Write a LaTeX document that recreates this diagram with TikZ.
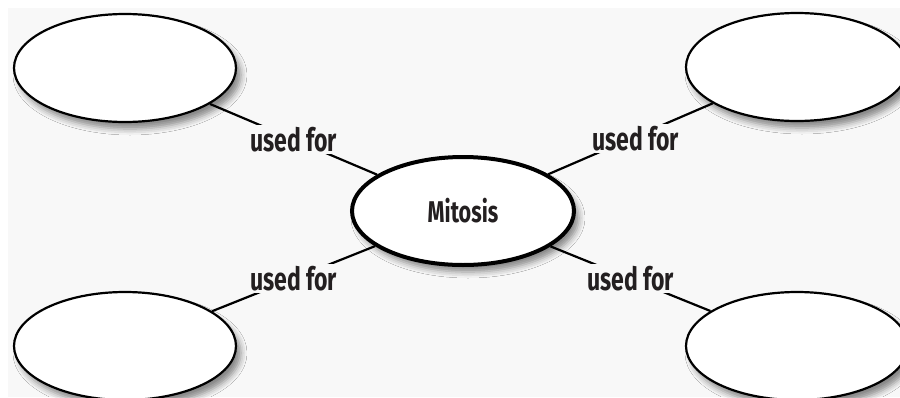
\documentclass[tikz,border=0pt]{standalone}
\usepackage{fontspec}
\setmainfont{Fira Sans}[FakeStretch=0.72]
\usetikzlibrary{shapes.geometric, shadows.blur}
\definecolor{paper}{HTML}{F8F8F8}
\definecolor{ink}{HTML}{231F20}
\tikzset{
      blank oval/.style={
		ellipse,
		draw=black,
		line width=2.2pt,
		fill=white,
		minimum width=222pt,
		minimum height=108pt,
		inner sep=0pt,
		blur shadow={shadow xshift=5pt, shadow yshift=-7pt, shadow blur radius=6pt, shadow opacity=45},
	  },
      main oval/.style={
		blank oval,
		line width=4pt,
		text=ink,
		font=\bfseries\fontsize{30}{33}\selectfont,
	  },
  		link label/.style={
		fill=paper,
		inner sep=2pt,
		text=ink,
		font=\bfseries\fontsize{32}{35}\selectfont,
      },
  		link/.style={
		line width=2.2pt,
      }
  	}
\begin{document}
\begin{tikzpicture}[x=1pt, y=-1pt]
    \fill [white] (0,0) rectangle (900,397);
    \fill [paper] (8,8) rectangle (900,397);
    \useasboundingbox (0,0) rectangle (900,397);
    \node [main oval] (mitosis) at (463,211) {Mitosis};
    \node [blank oval] (1) at (125,68) {};
    \node [blank oval] (2) at (797,67) {};
    \node [blank oval] (3) at (125,346) {};
    \node [blank oval] (4) at (797,346) {};
    \draw [link] (mitosis) -- node [link label] {used for} (1);
    \draw [link] (mitosis) -- node [link label, xshift=5pt] {used for} (2);
    \draw [link] (mitosis) -- node [link label] {used for} (3);
    \draw [link] (mitosis) -- node [link label] {used for} (4);
  \end{tikzpicture}
\end{document}
